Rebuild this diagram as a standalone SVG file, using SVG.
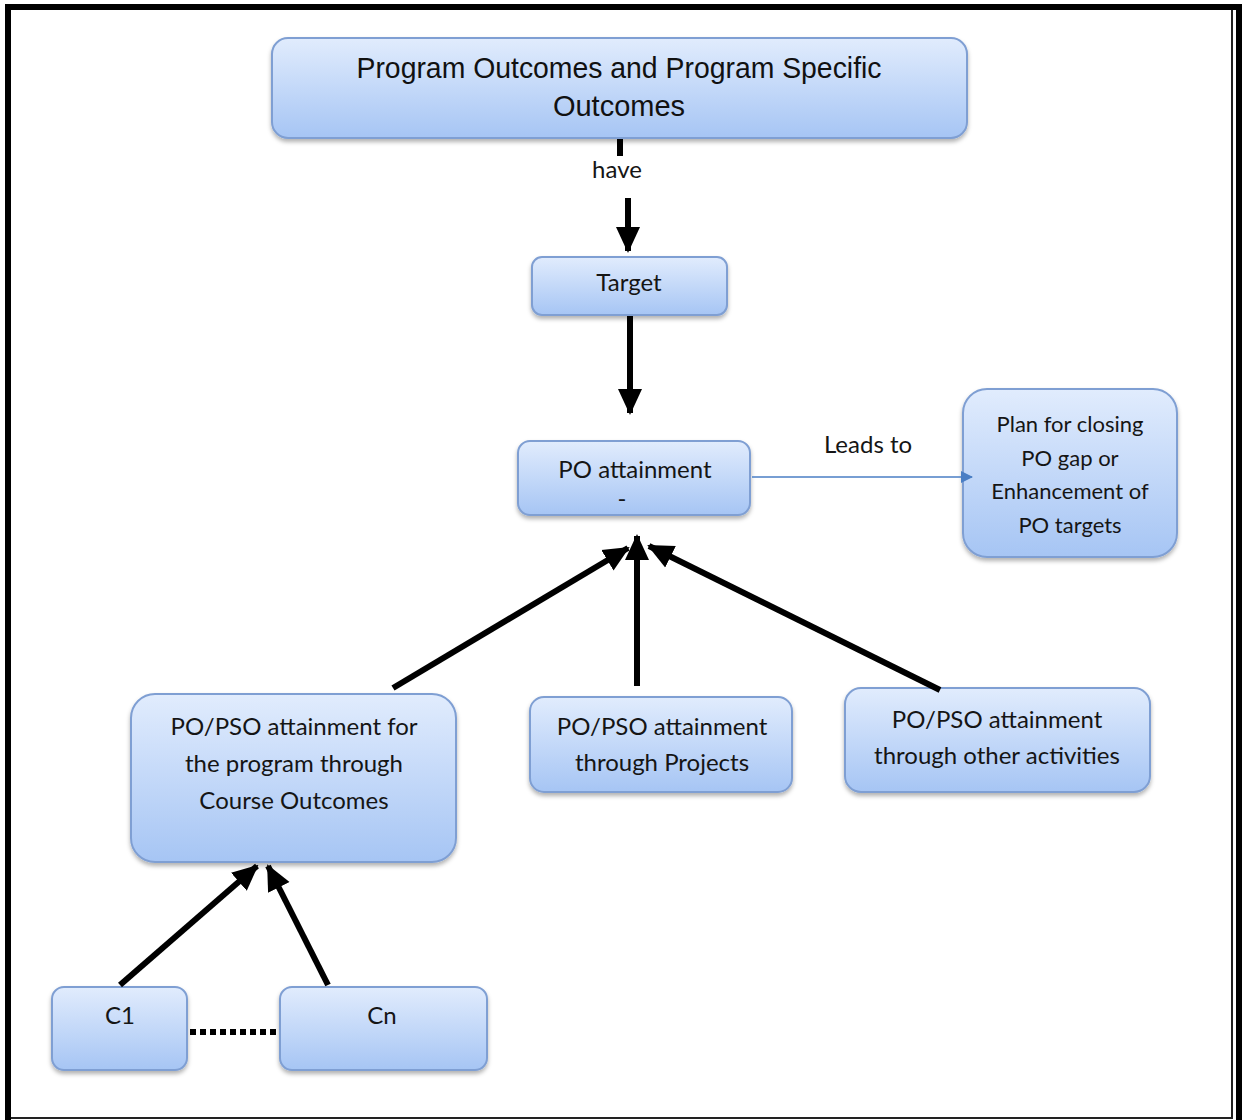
<svg xmlns="http://www.w3.org/2000/svg" width="1243" height="1120" viewBox="0 0 1243 1120">
<style>
.box{fill:url(#g);stroke:#7f9fd3;stroke-width:2;filter:url(#sh)}
.t{font-family:"Lato","Open Sans","Liberation Sans",sans-serif;font-size:24px;fill:#151515;text-anchor:middle}
.p{font-size:22px}
.a{font-family:"Liberation Sans",Arial,sans-serif;font-size:29px;fill:#111;text-anchor:middle}
.c{stroke:#000;stroke-width:6;fill:none}
</style>
<defs>
<linearGradient id="g" x1="0" y1="0" x2="0" y2="1">
<stop offset="0" stop-color="#e1ecfd"/>
<stop offset="1" stop-color="#a6c5f4"/>
</linearGradient>
<filter id="sh" x="-10%" y="-10%" width="120%" height="130%">
<feDropShadow dx="0" dy="3" stdDeviation="2" flood-color="#000" flood-opacity="0.3"/>
</filter>
<marker id="ah" markerUnits="userSpaceOnUse" markerWidth="26" markerHeight="26" viewBox="0 0 26 26" refX="24" refY="13" orient="auto">
<path d="M0,1 L26,13 L0,25 Z" fill="#000"/>
</marker>
<marker id="bh" markerUnits="userSpaceOnUse" markerWidth="12" markerHeight="12" viewBox="0 0 12 12" refX="11" refY="6" orient="auto">
<path d="M0,0 L12,6 L0,12 Z" fill="#4a7ec4"/>
</marker>
</defs>
<rect width="1243" height="1120" fill="#fff"/>
<g id="frame">
<path d="M8,1120 L8,7 L1239,7 L1239,1120" fill="none" stroke="#000" stroke-width="6"/>
<path d="M1232,10 L1232,1118 L11,1118" fill="none" stroke="#222" stroke-width="2"/>
</g>
<g id="pos">
<rect class="box" x="272" y="38" width="695" height="100" rx="16"/>
<text class="a" x="619" y="78" textLength="525" lengthAdjust="spacingAndGlyphs">Program Outcomes and Program Specific</text>
<text class="a" x="619" y="116">Outcomes</text>
</g>
<g id="target">
<rect class="box" x="532" y="257" width="195" height="58" rx="10"/>
<text class="t" x="629" y="291">Target</text>
</g>
<g id="po">
<rect class="box" x="518" y="441" width="232" height="74" rx="12"/>
<text class="t" x="635" y="478">PO attainment</text>
<text class="t" x="622" y="507">-</text>
</g>
<g id="plan">
<rect class="box" x="963" y="389" width="214" height="168" rx="24"/>
<text class="t p" x="1070" y="432">Plan for closing</text>
<text class="t p" x="1070" y="466">PO gap or</text>
<text class="t p" x="1070" y="499">Enhancement of</text>
<text class="t p" x="1070" y="533">PO targets</text>
</g>
<g id="co">
<rect class="box" x="131" y="694" width="325" height="168" rx="24"/>
<text class="t" x="294" y="735">PO/PSO attainment for</text>
<text class="t" x="294" y="772">the program through</text>
<text class="t" x="294" y="809">Course Outcomes</text>
</g>
<g id="projects">
<rect class="box" x="530" y="697" width="262" height="95" rx="14"/>
<text class="t" x="662" y="735">PO/PSO attainment</text>
<text class="t" x="662" y="771">through Projects</text>
</g>
<g id="other">
<rect class="box" x="845" y="688" width="305" height="104" rx="16"/>
<text class="t" x="997" y="728">PO/PSO attainment</text>
<text class="t" x="997" y="764">through other activities</text>
</g>
<g id="c1">
<rect class="box" x="52" y="987" width="135" height="83" rx="12"/>
<text class="t" x="120" y="1024">C1</text>
</g>
<g id="cn">
<rect class="box" x="280" y="987" width="207" height="83" rx="12"/>
<text class="t" x="382" y="1024">Cn</text>
</g>
<g id="connectors">
<line class="c" x1="620" y1="139" x2="620" y2="156"/>
<line class="c" x1="628" y1="198" x2="628" y2="251" marker-end="url(#ah)"/>
<line class="c" x1="630" y1="316" x2="630" y2="413" marker-end="url(#ah)"/>
<line x1="752" y1="477" x2="972" y2="477" stroke="#4a7ec4" stroke-width="1.5" marker-end="url(#bh)"/>
<line class="c" x1="393" y1="688" x2="628" y2="548" marker-end="url(#ah)"/>
<line class="c" x1="637" y1="686" x2="637" y2="536" marker-end="url(#ah)"/>
<line class="c" x1="940" y1="690" x2="649" y2="546" marker-end="url(#ah)"/>
<line class="c" x1="120" y1="985" x2="257" y2="866" marker-end="url(#ah)"/>
<line class="c" x1="328" y1="985" x2="268" y2="866" marker-end="url(#ah)"/>
<line x1="190" y1="1032" x2="280" y2="1032" stroke="#000" stroke-width="6" stroke-dasharray="6,4"/>
<text class="t" x="617" y="178">have</text>
<text class="t" x="868" y="453">Leads to</text>
</g>
</svg>
